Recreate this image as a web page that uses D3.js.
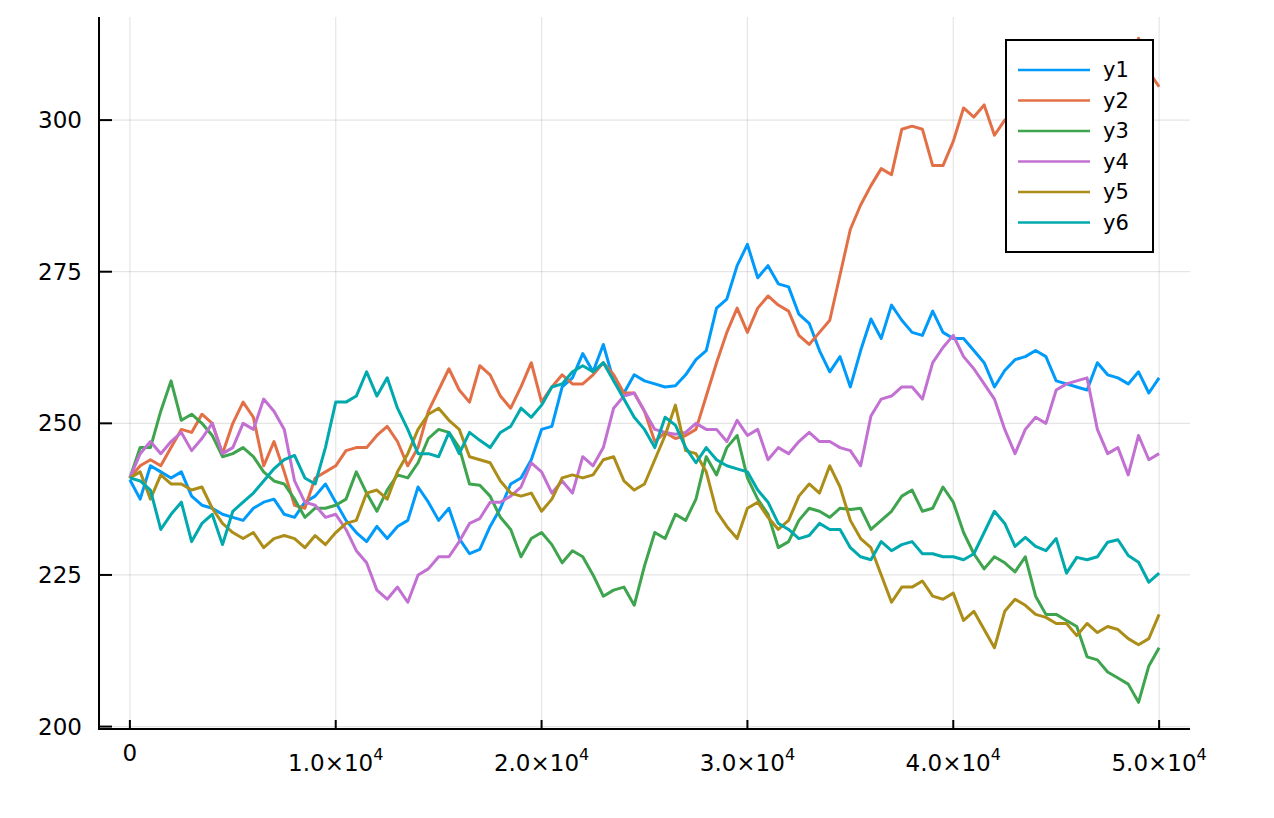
<!DOCTYPE html>
<html>
<head>
<meta charset="utf-8">
<script src="https://cdn.jsdelivr.net/npm/d3@7"></script>
<style>
  html, body { margin: 0; padding: 0; background: #fff; }
  svg { display: block; }
  text { font-family: "DejaVu Sans", sans-serif; fill: #000; }
</style>
</head>
<body>
<svg id="chart" width="1274" height="818"></svg>
<script>
// ---- data (one value every 500 steps) ----
const xValues = d3.range(0, 50001, 500);
const seriesNames = ["y1", "y2", "y3", "y4", "y5", "y6"];
const seriesColors = ["#009AFA", "#E36F47", "#3EA44E", "#C271D2", "#AC8D18", "#00A9AD"];

const y1 = [240.7,237.5,243,242,241,242,238,236.5,236,235,234.5,234,236,237,237.5,235,234.5,237,238,240,
  237,234,232,230.5,233,231,233,234,239.5,237,234,236,231,228.5,229.2,233,236,240,241,244,
  249,249.5,256,257.5,261.5,258.5,263,257,255,258,257,256.5,256,256.2,258,260.5,262,269,270.5,276,
  279.5,274,276,273,272.5,268,266.5,262,258.5,261,256,262,267.2,264,269.5,267,265,264.5,268.5,265,
  264,264,262,260,256,258.7,260.5,261,262,261,257,256.5,256,255.5,260,258,257.5,256.5,258.5,255,257.5];

const y2 = [241,243,244,243,246,249,248.5,251.5,250,245,250,253.5,251,243,247,242,236.5,236,241,242,
  243,245.5,246,246,248,249.5,247,243,246,252,255.5,259,255.5,253.5,259.5,258,254.5,252.5,256,260,
  253.5,256,258,256.5,256.5,258,260,258,255,255,252,247,248.5,247.5,248,249,254.5,260,265,269,
  265,269,271,269.5,268.5,264.5,263,265,267,274.5,282,286,289.2,292,291,298.5,299,298.5,292.5,292.5,
  296.5,302,300.5,302.5,297.5,300,301,303,300,302,305,304,306,308,306,309,310,308,313.5,308,305.5];

const y3 = [241,246,246,252,257,250.5,251.5,250,248,244.5,245,246,244.5,242,240.5,240,237.5,234.5,236,236,
  236.5,237.5,242,238.5,235.5,239,241.5,241,243.5,247.5,249,248.5,246,240,239.8,238,234.5,232.5,228,231,
  232,230,227,229,228,225,221.5,222.5,223,220,226.5,232,231,235,234,237.5,244.5,241.5,246,248,
  241,237.5,235,229.5,230.5,234,236,235.5,234.5,236,235.8,236,232.5,234,235.5,238,239,235.5,236,239.5,
  237,232,228.5,226,228,227,225.5,228,221.5,218.5,218.5,217.5,216.5,211.5,211,209,208,207,204,210,213];

const y4 = [241,245,247,245,247,248.5,245.5,247.5,250,245,246,250,249,254,252,249,240.5,237,236.5,234.5,
  235,232.5,229,227,222.5,221,223,220.5,225,226,228,228,230.5,233.5,234.3,237,237,238,239.5,243.5,
  242,238.5,240.5,238.5,244.5,243,246,252.5,254.5,255,252,249,248.5,248.2,248.5,250,249,249,247,250.5,
  248,249,244,246,245,247,248.5,247,247,246,245.5,243,251.2,254,254.5,256,256,254,260,262.5,
  264.5,261,259,256.5,254,249,245,249,251,250,255.5,256.5,257,257.5,249,245,246,241.5,248,244,245];

const y5 = [241,242,237.5,241.5,240,240,239,239.5,236,233.5,232,231,232,229.5,231,231.5,231,229.5,231.5,230,
  232,233.5,234,238.5,239,237.5,242,245,249,251.5,252.5,250.5,249,244.5,244,243.5,240.5,238.5,238,238.5,
  235.5,237.5,241,241.5,241,241.5,244,244.5,240.5,239,240,244,248,253,245.5,245,242,235.5,233,231,
  236,237,234.5,232.5,234,238,240,238.5,243,239.5,234,231,229.5,225,220.5,223,223,224,221.5,221,
  222,217.5,219,216,213,219,221,220,218.5,218,217,217,215,217,215.5,216.5,216,214.5,213.5,214.5,218.5];

const y6 = [241,240.5,239,232.5,235,237,230.5,233.5,235,230,235.5,237,238.5,240.5,242.5,244,244.7,241,240,246,
  253.5,253.5,254.5,258.5,254.5,257.5,252.5,249,245,245,244.5,248.5,245,248.5,247.2,246,248.5,249.5,252.5,251,
  253,256,256.5,258.5,259.5,258.5,260,257,254,251,249,246,251,249.7,246,243.5,246,244,243,242.5,
  242,239,237,233.5,232.5,231,231.5,233.5,232.5,232.5,229.5,228,227.5,230.5,229,230,230.5,228.5,228.5,228,
  228,227.5,228.5,232,235.5,233.5,229.7,231.2,229.7,229,231,225.3,227.9,227.5,228,230.4,230.8,228.2,227.1,223.8,225.3];

const seriesValues = [y1, y2, y3, y4, y5, y6];

const xTicks = [0, 10000, 20000, 30000, 40000, 50000];
const xTickMantissa = ["0", "1.0", "2.0", "3.0", "4.0", "5.0"];
const yTicks = [200, 225, 250, 275, 300];
const yTickLabels = ["200", "225", "250", "275", "300"];

(function draw() {
  const svg = d3.select("#chart");
  const pl = 99, pr = 1190, pt = 17, pb = 729;

  const x = d3.scaleLinear().domain([-1500, 51500]).range([pl, pr]);
  const y = d3.scaleLinear().domain([199.6, 317.0]).range([pb, pt]);

  svg.append("rect").attr("width", 1274).attr("height", 818).attr("fill", "#fff");

  // grid
  const grid = svg.append("g");
  grid.selectAll("line.gx").data(xTicks).join("line")
    .attr("x1", d => x(d)).attr("x2", d => x(d))
    .attr("y1", pt).attr("y2", pb)
    .attr("stroke", "#000").attr("stroke-opacity", 0.1).attr("stroke-width", 1.2);
  grid.selectAll("line.gy").data(yTicks).join("line")
    .attr("y1", d => y(d)).attr("y2", d => y(d))
    .attr("x1", pl).attr("x2", pr)
    .attr("stroke", "#000").attr("stroke-opacity", 0.1).attr("stroke-width", 1.2);

  // series
  svg.append("clipPath").attr("id", "clip")
    .append("rect").attr("x", pl).attr("y", pt).attr("width", pr - pl).attr("height", pb - pt);

  const line = d3.line().x((d, i) => x(xValues[i])).y(d => y(d));
  const lines = svg.append("g").attr("clip-path", "url(#clip)");
  seriesValues.forEach((vals, si) => {
    lines.append("path")
      .attr("d", line(vals))
      .attr("fill", "none")
      .attr("stroke", seriesColors[si])
      .attr("stroke-width", 3)
      .attr("stroke-linejoin", "round");
  });

  // axes
  const axisG = svg.append("g");
  axisG.append("line").attr("x1", pl).attr("x2", pl).attr("y1", pt).attr("y2", pb + 1)
    .attr("stroke", "#000").attr("stroke-width", 2);
  axisG.append("line").attr("x1", pl - 1).attr("x2", pr).attr("y1", pb).attr("y2", pb)
    .attr("stroke", "#000").attr("stroke-width", 2);

  // y ticks (inward)
  axisG.selectAll("line.yt").data(yTicks).join("line")
    .attr("x1", pl).attr("x2", pl + 13)
    .attr("y1", d => y(d)).attr("y2", d => y(d))
    .attr("stroke", "#000").attr("stroke-width", 2);
  axisG.selectAll("text.yl").data(yTicks).join("text")
    .attr("x", 82).attr("y", d => y(d) + 8)
    .attr("text-anchor", "end")
    .attr("font-size", 23)
    .text((d, i) => yTickLabels[i]);

  // x ticks (inward)
  axisG.selectAll("line.xt").data(xTicks).join("line")
    .attr("x1", d => x(d)).attr("x2", d => x(d))
    .attr("y1", pb).attr("y2", pb - 9)
    .attr("stroke", "#000").attr("stroke-width", 2);
  xTicks.forEach((t, i) => {
    if (t === 0) {
      axisG.append("text").attr("x", x(t)).attr("y", 761)
        .attr("text-anchor", "middle").attr("font-size", 23).text(xTickMantissa[i]);
    } else {
      const txt = axisG.append("text").attr("x", x(t)).attr("y", 771)
        .attr("text-anchor", "middle").attr("font-size", 23);
      txt.append("tspan").text(xTickMantissa[i] + "\u00D710");
      txt.append("tspan").attr("dy", -11).attr("font-size", 16).text("4");
    }
  });

  // legend
  const lg = svg.append("g");
  lg.append("rect").attr("x", 1006).attr("y", 40).attr("width", 147).attr("height", 212)
    .attr("fill", "#fff").attr("stroke", "#000").attr("stroke-width", 2);
  seriesNames.forEach((name, i) => {
    const cy = 70 + i * 30.5;
    lg.append("line").attr("x1", 1018).attr("x2", 1090).attr("y1", cy).attr("y2", cy)
      .attr("stroke", seriesColors[i]).attr("stroke-width", 2.4);
    lg.append("text").attr("x", 1103).attr("y", cy + 7).attr("font-size", 21).text(name);
  });
})();
</script>
</body>
</html>
